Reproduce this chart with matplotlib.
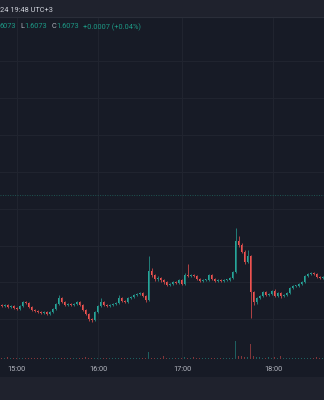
import numpy as np
import matplotlib
matplotlib.use("Agg")
import matplotlib.pyplot as plt
from matplotlib.patches import Rectangle
from matplotlib.lines import Line2D

# ---------------- data ----------------
open_ = [1.60695,1.60694,1.60695,1.60693,1.60694,1.60692,1.60691,1.60694,1.60698,1.60697,
         1.60693,1.60690,1.60689,1.60688,1.60687,1.60688,1.60686,1.60688,1.60691,1.60696,
         1.60702,1.60698,1.60695,1.60696,1.60695,1.60696,1.60698,1.60695,1.60690,1.60686,
         1.60681,1.60680,1.60688,1.60694,1.60698,1.60695,1.60694,1.60695,1.60696,1.60697,
         1.60702,1.60699,1.60698,1.60702,1.60703,1.60705,1.60706,1.60707,1.60704,1.60700,
         1.60729,1.60725,1.60721,1.60722,1.60720,1.60718,1.60715,1.60716,1.60718,1.60717,
         1.60720,1.60716,1.60725,1.60724,1.60725,1.60724,1.60721,1.60719,1.60720,1.60720,
         1.60725,1.60721,1.60719,1.60720,1.60719,1.60720,1.60720,1.60722,1.60728,1.60759,
         1.60755,1.60748,1.60738,1.60744,1.60708,1.60698,1.60702,1.60704,1.60708,1.60705,
         1.60706,1.60709,1.60704,1.60707,1.60704,1.60705,1.60707,1.60712,1.60714,1.60714,
         1.60716,1.60718,1.60724,1.60726,1.60727,1.60726,1.60723,1.60722]
high = [1.60696,1.60696,1.60696,1.60695,1.60695,1.60693,1.60695,1.60699,1.60699,1.60698,
        1.60694,1.60691,1.60690,1.60689,1.60689,1.60689,1.60689,1.60692,1.60697,1.60705,
        1.60703,1.60699,1.60697,1.60697,1.60697,1.60699,1.60699,1.60696,1.60691,1.60687,
        1.60682,1.60689,1.60695,1.60702,1.60699,1.60696,1.60696,1.60697,1.60698,1.60705,
        1.60703,1.60700,1.60703,1.60704,1.60706,1.60707,1.60708,1.60708,1.60705,1.60744,
        1.60732,1.60726,1.60724,1.60723,1.60721,1.60719,1.60717,1.60719,1.60719,1.60721,
        1.60721,1.60727,1.60736,1.60726,1.60726,1.60725,1.60722,1.60721,1.60721,1.60726,
        1.60726,1.60722,1.60721,1.60721,1.60721,1.60721,1.60723,1.60729,1.60772,1.60764,
        1.60757,1.60750,1.60750,1.60745,1.60709,1.60703,1.60705,1.60709,1.60709,1.60707,
        1.60710,1.60711,1.60708,1.60708,1.60706,1.60708,1.60713,1.60715,1.60715,1.60717,
        1.60719,1.60725,1.60727,1.60728,1.60728,1.60727,1.60724,1.60724]
low = [1.60693,1.60693,1.60692,1.60692,1.60691,1.60690,1.60690,1.60693,1.60696,1.60692,
       1.60689,1.60688,1.60687,1.60686,1.60686,1.60685,1.60685,1.60687,1.60690,1.60695,
       1.60697,1.60694,1.60694,1.60694,1.60694,1.60695,1.60694,1.60689,1.60685,1.60679,
       1.60678,1.60679,1.60687,1.60693,1.60694,1.60693,1.60693,1.60694,1.60695,1.60696,
       1.60698,1.60697,1.60697,1.60701,1.60702,1.60704,1.60705,1.60703,1.60698,1.60699,
       1.60723,1.60719,1.60719,1.60718,1.60716,1.60714,1.60714,1.60715,1.60716,1.60716,
       1.60715,1.60715,1.60723,1.60723,1.60723,1.60720,1.60718,1.60718,1.60719,1.60719,
       1.60720,1.60718,1.60718,1.60718,1.60718,1.60719,1.60719,1.60721,1.60727,1.60753,
       1.60747,1.60736,1.60737,1.60682,1.60695,1.60696,1.60701,1.60703,1.60704,1.60704,
       1.60705,1.60703,1.60703,1.60702,1.60703,1.60704,1.60706,1.60711,1.60713,1.60713,
       1.60715,1.60717,1.60723,1.60725,1.60725,1.60722,1.60721,1.60721]
close = [1.60694,1.60695,1.60693,1.60694,1.60692,1.60691,1.60694,1.60698,1.60697,1.60693,
         1.60690,1.60689,1.60688,1.60687,1.60688,1.60686,1.60688,1.60691,1.60696,1.60702,
         1.60698,1.60695,1.60696,1.60695,1.60696,1.60698,1.60695,1.60690,1.60686,1.60681,
         1.60680,1.60688,1.60694,1.60698,1.60695,1.60694,1.60695,1.60696,1.60697,1.60702,
         1.60699,1.60698,1.60702,1.60703,1.60705,1.60706,1.60707,1.60704,1.60700,1.60729,
         1.60725,1.60721,1.60722,1.60720,1.60718,1.60715,1.60716,1.60718,1.60717,1.60720,
         1.60716,1.60725,1.60724,1.60725,1.60724,1.60721,1.60719,1.60720,1.60720,1.60725,
         1.60721,1.60719,1.60720,1.60719,1.60720,1.60720,1.60722,1.60728,1.60759,1.60755,
         1.60748,1.60738,1.60744,1.60708,1.60698,1.60702,1.60704,1.60708,1.60705,1.60706,
         1.60709,1.60704,1.60707,1.60704,1.60705,1.60707,1.60712,1.60714,1.60714,1.60716,
         1.60718,1.60724,1.60726,1.60727,1.60726,1.60723,1.60722,1.60723]
volume = [1,1,2,1,1,1,1,1,1,1,
          1,1,1,1,1,1,1,1,1,1,
          1,1,1,1,1,1,1,1,2,1,
          1,1,1,1,1,1,1,1,1,1,
          1,1,1,1,1,1,1,1,1,7,
          1,1,1,1,3,1,1,1,1,1,
          1,2,1,1,2,1,1,1,1,1,
          1,1,1,1,1,1,1,1,18,3,
          3,2,2,15,3,2,2,1,1,2,
          1,2,1,3,1,1,1,1,1,1,
          1,1,1,1,1,2,1,1]
time_labels = ["15:00", "16:00", "17:00", "18:00"]
time_tick_pos = [5.07, 32.27, 60.17, 90.6]
grid_prices = [1.60939, 1.60902, 1.60865, 1.60828, 1.60791, 1.60754, 1.60718, 1.60681]
ref_price = 1.60805
header_text = "24 19:48 UTC+3"
ohlc_parts = [("6073", "val"), ("L", "lab"), ("1.6073", "val"), ("C", "lab"),
              ("1.6073", "val"), ("+0.0007 (+0.04%)", "val")]

# ---------------- style ----------------
W, H = 324, 400
BG = "#171b26"
BAR_BG = "#1f222d"
GRID = "#20242f"
UP = "#26a69a"
DOWN = "#ef5350"
TXT = "#b2b5be"
VAL = "#1d9985"
FONT = "Roboto"

fig = plt.figure(figsize=(W / 100, H / 100), dpi=100)
fig.patch.set_facecolor(BG)

def fy(py):
    return 1 - py / H

# top bar and bottom strip
fig.patches.append(Rectangle((0, fy(16.5)), 1, 16.5 / H, transform=fig.transFigure,
                             facecolor=BAR_BG, edgecolor="none", zorder=0))
fig.lines.append(Line2D([0, 1], [fy(16.5), fy(16.5)], transform=fig.transFigure,
                        color="#2a2e39", lw=0.8))
fig.patches.append(Rectangle((0, 0), 1, 23 / H, transform=fig.transFigure,
                             facecolor=BAR_BG, edgecolor="none", zorder=0))

# price axes
ax = fig.add_axes([0, 40 / H, 1, 343 / H])
ax.set_facecolor(BG)
n = len(close)
x = np.arange(n)
ax.set_xlim(-0.5, n - 0.5)
ax.set_ylim(1.60640, 1.60983)
for s in ax.spines.values():
    s.set_visible(False)

ax.set_yticks(grid_prices)
ax.set_yticklabels([])
ax.tick_params(axis="y", length=0)
ax.set_xticks(time_tick_pos)
ax.set_xticklabels(time_labels, fontsize=5.3, color=TXT, family=FONT)
ax.tick_params(axis="x", length=0, pad=4.5)
ax.grid(True, color=GRID, lw=0.8)
ax.set_axisbelow(True)

ax.axhline(ref_price, color="#1f5753", lw=0.7, ls=(0, (1, 1.5)), zorder=1)

o = np.array(open_); c = np.array(close); h = np.array(high); l = np.array(low)
up = c >= o
cols = np.where(up, UP, DOWN)
ax.vlines(x, l, h, colors=cols, lw=0.5, zorder=3)
body_h = np.abs(c - o)
body_h = np.where(body_h < 0.000008, 0.000008, body_h)
ax.bar(x, body_h, bottom=np.minimum(o, c), width=0.62, color=cols, edgecolor="none", zorder=4)

# volume axes
vax = fig.add_axes([0, 41 / H, 1, 100 / H])
vax.set_xlim(-0.5, n - 0.5)
vax.set_ylim(0, 100)
vax.axis("off")
vax.patch.set_alpha(0)
vax.bar(x, volume, width=0.62, color=cols, alpha=0.5, edgecolor="none")

# header texts
fig.text(0 / W, fy(10), header_text, fontsize=5.3, color="#d1d4dc", family=FONT, va="center", ha="left")
xs = [0, 20.5, 24.5, 52, 56, 83]
for (t, kind), px in zip(ohlc_parts, xs):
    fig.text(px / W, fy(27), t, fontsize=5.3, color=(VAL if kind == "val" else TXT),
             family=FONT, va="center", ha="left")

fig.savefig("out.png", dpi=100, facecolor=fig.get_facecolor())
